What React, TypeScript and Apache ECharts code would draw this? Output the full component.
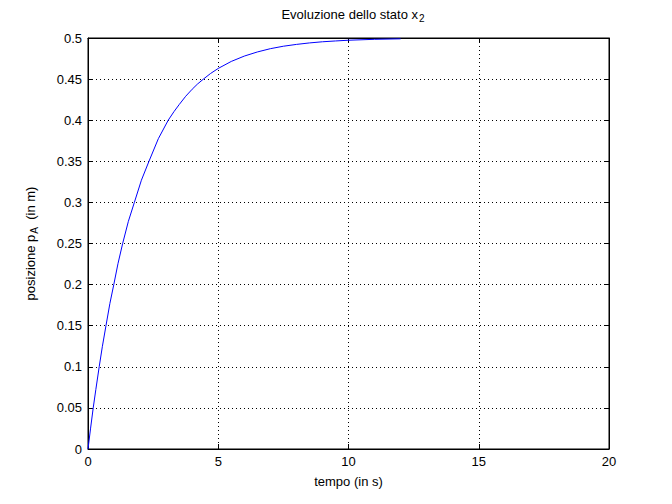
import React, { useEffect, useRef } from "react";
import * as echarts from "echarts";

const timeValues = [0, 0.1, 0.2, 0.3, 0.43, 0.55, 0.69, 0.84, 0.99, 1.15, 1.33, 1.55, 1.78, 2.05, 2.34, 2.7, 3.08, 3.3, 3.5, 3.75, 4.0, 4.2, 4.43, 4.7, 5.0, 5.5, 6.0, 6.5, 7.0, 7.5, 8.0, 8.5, 9.0, 9.5, 10.0, 11.0, 12.0];
const positionValues = [0, 0.0254, 0.05, 0.0722, 0.1, 0.1244, 0.15, 0.177, 0.2, 0.2254, 0.25, 0.277, 0.3, 0.327, 0.35, 0.3775, 0.4, 0.4104, 0.419, 0.4291, 0.4377, 0.4439, 0.45, 0.4567, 0.463, 0.4715, 0.478, 0.483, 0.487, 0.49, 0.4922, 0.494, 0.4954, 0.4964, 0.4973, 0.4984, 0.499];

const titleText = "Evoluzione dello stato x{sub|2}";
const xLabel = "tempo (in s)";
const yLabel = "posizione p{sub|A}  (in m)";

const FONT = "Liberation Sans, Arial, Helvetica, sans-serif";

export default function App() {
  const ref = useRef<HTMLDivElement>(null);
  useEffect(() => {
    document.body.style.margin = "0";
    const chart = echarts.init(ref.current!, null, { renderer: "svg" });
    const data = timeValues.map((t, i) => [t, positionValues[i]]);
    const grid = { left: 88, right: 63, top: 38, bottom: 55 };
    const axisLine = { show: true, onZero: false, lineStyle: { color: "#000", width: 1 } };
    const axisTick = { show: true, inside: true, length: 5, lineStyle: { color: "#000" } };
    const splitLine = { show: true, lineStyle: { color: "#000", width: 1, type: [1, 3] as any } };
    chart.setOption({
      animation: false,
      backgroundColor: "#fff",
      title: {
        text: titleText,
        left: 348,
        textAlign: "center",
        top: 1,
        textStyle: {
          fontFamily: FONT,
          fontSize: 13,
          fontWeight: "normal",
          color: "#000",
          lineHeight: 16,
          rich: {
            sub: { fontFamily: FONT, fontSize: 10, color: "#000", lineHeight: 16, padding: [9, 0, 0, 1] },
          },
        },
      },
      grid: { ...grid, show: true, borderColor: "#000", borderWidth: 1, backgroundColor: "transparent" },
      xAxis: [
        {
          type: "value",
          min: 0,
          max: 20,
          interval: 5,
          position: "bottom",
          axisLine,
          axisTick,
          splitLine,
          axisLabel: { color: "#000", fontFamily: FONT, fontSize: 13, margin: 6 },
          name: xLabel,
          nameLocation: "middle",
          nameGap: 26,
          nameTextStyle: { color: "#000", fontFamily: FONT, fontSize: 13 },
        },
        {
          type: "value",
          min: 0,
          max: 20,
          interval: 5,
          position: "top",
          axisLine,
          axisTick,
          splitLine: { show: false },
          axisLabel: { show: false },
        },
      ],
      yAxis: [
        {
          type: "value",
          min: 0,
          max: 0.5,
          interval: 0.05,
          position: "left",
          axisLine,
          axisTick,
          splitLine,
          axisLabel: {
            color: "#000",
            fontFamily: FONT,
            fontSize: 13,
            margin: 6,
            formatter: (v: number) => String(parseFloat(v.toFixed(2))),
          },
          name: yLabel,
          nameLocation: "middle",
          nameGap: 50,
          nameRotate: 90,
          nameTextStyle: {
            color: "#000",
            fontFamily: FONT,
            fontSize: 13,
            lineHeight: 16,
            rich: {
              sub: { fontFamily: FONT, fontSize: 10, color: "#000", lineHeight: 16, padding: [9, 0, 0, 1] },
            },
          },
        },
        {
          type: "value",
          min: 0,
          max: 0.5,
          interval: 0.05,
          position: "right",
          axisLine,
          axisTick,
          splitLine: { show: false },
          axisLabel: { show: false },
        },
      ],
      series: [
        {
          type: "line",
          data,
          xAxisIndex: 0,
          yAxisIndex: 0,
          showSymbol: false,
          smooth: false,
          lineStyle: { color: "#0000ff", width: 1 },
          itemStyle: { color: "#0000ff" },
        },
      ],
    });
    return () => chart.dispose();
  }, []);
  return <div ref={ref} style={{ width: 672, height: 504, position: "absolute", left: 0, top: 0 }} />;
}
